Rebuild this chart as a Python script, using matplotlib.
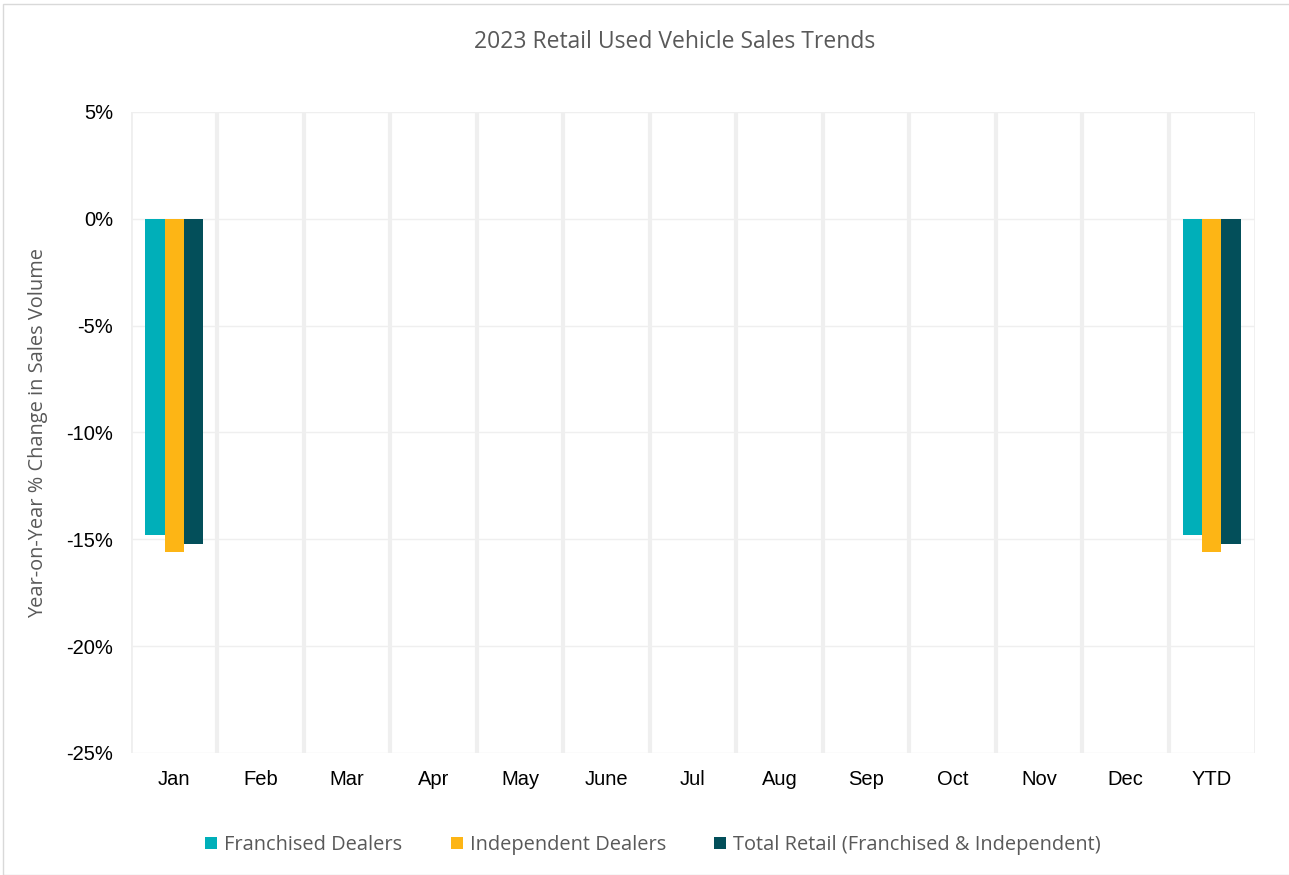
import numpy as np
import matplotlib
matplotlib.use("Agg")
import matplotlib.pyplot as plt
from matplotlib.patches import Rectangle
from matplotlib.ticker import FuncFormatter

categories = ["Jan", "Feb", "Mar", "Apr", "May", "June", "Jul", "Aug", "Sep", "Oct", "Nov", "Dec", "YTD"]
franchised = [-14.8, None, None, None, None, None, None, None, None, None, None, None, -14.8]
independent = [-15.6, None, None, None, None, None, None, None, None, None, None, None, -15.6]
total_retail = [-15.2, None, None, None, None, None, None, None, None, None, None, None, -15.2]
series_names = ["Franchised Dealers", "Independent Dealers", "Total Retail (Franchised & Independent)"]
colors = ["#00AFB9", "#FDB515", "#034F5A"]
y_ticks = [5, 0, -5, -10, -15, -20, -25]

W, H = 1289, 875
fig = plt.figure(figsize=(W / 100, H / 100), dpi=100)
fig.patch.set_facecolor("white")
fig.patches.append(Rectangle((3 / W, 0), 1.2, 1 - 4 / H, transform=fig.transFigure,
                             fill=False, edgecolor="#d9d9d9", linewidth=1))

ax = fig.add_axes([131 / W, 1 - 753 / H, (1255 - 131) / W, (753 - 112) / H])

x = np.arange(len(categories))
bw = 0.222
data = [franchised, independent, total_retail]
for i, (vals, name, c) in enumerate(zip(data, series_names, colors)):
    v = np.array([np.nan if a is None else a for a in vals], dtype=float)
    ax.bar(x + (i - 1) * bw, v, width=bw, color=c, label=name, zorder=3)

ax.set_xlim(-0.5, len(categories) - 0.5)
ax.set_ylim(-25, 5)
ax.set_yticks(y_ticks)
ax.yaxis.set_major_formatter(FuncFormatter(lambda v, p: f"{int(v)}%"))
ax.set_xticks(x)
ax.set_xticklabels(categories)
ax.tick_params(axis="both", length=0, labelsize=14.5, labelcolor="#000000")
for lab in ax.get_xticklabels() + ax.get_yticklabels():
    lab.set_family("Liberation Sans")
ax.tick_params(axis="x", pad=12)
ax.tick_params(axis="y", pad=13)

for yv in y_ticks:
    ax.axhline(yv, color="#efefef", linewidth=1, zorder=1)
for k in range(len(categories) + 1):
    ax.axvline(k - 0.5, color="#efefef", linewidth=3 if 0 < k < len(categories) else 2, zorder=2)

for s in ax.spines.values():
    s.set_visible(False)

ax.set_ylabel("Year-on-Year % Change in Sales Volume", fontsize=14.4, color="#595959",
              family="Open Sans", labelpad=13)

fig.text(675 / W, 1 - 42 / H, "2023 Retail Used Vehicle Sales Trends", ha="center", va="center",
         fontsize=16.5, color="#595959", family="Open Sans")

handles, labels = ax.get_legend_handles_labels()
leg = fig.legend(handles, labels, loc="center", bbox_to_anchor=(653 / W, 1 - 845 / H), ncol=3,
                 frameon=False, handlelength=0.6, handleheight=0.6, handletextpad=0.35,
                 columnspacing=2.4, prop={"family": "Open Sans", "size": 14.4})
for t in leg.get_texts():
    t.set_color("#595959")

fig.savefig("out.png", dpi=100)
